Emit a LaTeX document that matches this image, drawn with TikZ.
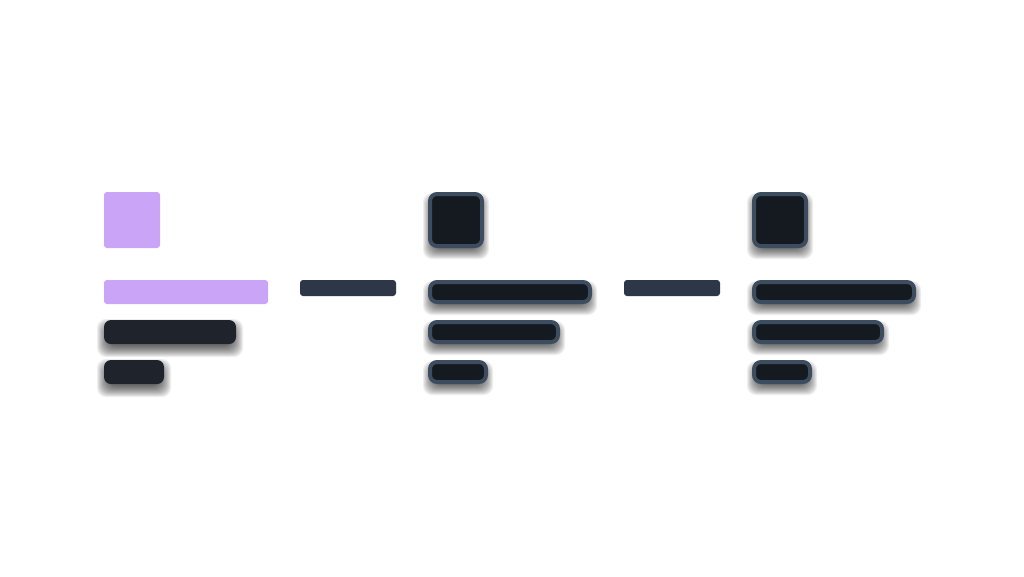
\documentclass[tikz,border=0pt]{standalone}
\pgfdeclarelayer{background}
\pgfsetlayers{background,main}
\definecolor{lilac}{HTML}{C9A4F7}
\definecolor{darkbar}{HTML}{1F242C}
\definecolor{linkbar}{HTML}{2D3748}
\definecolor{edge}{HTML}{3D4D60}
\definecolor{core}{HTML}{151920}
\tikzset{
  base/.style={inner sep=0pt, outer sep=0pt, anchor=north west},
  lilacbox/.style={base, fill=lilac, rounded corners=3pt},
  darkbox/.style={base, fill=darkbar, rounded corners=7pt},
  linkbox/.style={base, fill=linkbar, rounded corners=3pt, minimum width=96pt, minimum height=16pt},
  framebox/.style={base, fill=core, draw=edge, line width=4pt, rounded corners=7pt},
  shadelayer/.style={fill=black, opacity=0.065, rounded corners=9pt},
}
\newcommand\dropshadow[1]{%
  \begin{pgfonlayer}{background}
  \foreach \e in {-4,-3,...,7}{
    \fill[shadelayer] ([xshift={(-1)*\e*1pt}, yshift={(\e-6)*1pt}]#1.north west)
      rectangle ([xshift={\e*1pt}, yshift={(-1)*(\e+6)*1pt}]#1.south east);
  }
  \end{pgfonlayer}}
\begin{document}
\begin{tikzpicture}[x=1pt,y=-1pt]
\useasboundingbox (0,0) rectangle (1024,576);
\begin{pgfonlayer}{background}
\fill[white] (0,0) rectangle (1024,576);
\end{pgfonlayer}
% group 1
\node[lilacbox, minimum width=56pt, minimum height=56pt] (a0) at (104,192) {};
\node[lilacbox, minimum width=164pt, minimum height=24pt] (a1) at (104,280) {};
\node[darkbox, minimum width=132pt, minimum height=24pt] (a2) at (104,320) {};
\node[darkbox, minimum width=60pt, minimum height=24pt] (a3) at (104,360) {};
% link 1
\node[linkbox] (l1) at (300,280) {};
% group 2
\node[framebox, minimum width=52pt, minimum height=52pt] (b0) at (430,194) {};
\node[framebox, minimum width=160pt, minimum height=20pt] (b1) at (430,282) {};
\node[framebox, minimum width=128pt, minimum height=20pt] (b2) at (430,322) {};
\node[framebox, minimum width=56pt, minimum height=20pt] (b3) at (430,362) {};
% link 2
\node[linkbox] (l2) at (624,280) {};
% group 3
\node[framebox, minimum width=52pt, minimum height=52pt] (c0) at (754,194) {};
\node[framebox, minimum width=160pt, minimum height=20pt] (c1) at (754,282) {};
\node[framebox, minimum width=128pt, minimum height=20pt] (c2) at (754,322) {};
\node[framebox, minimum width=56pt, minimum height=20pt] (c3) at (754,362) {};
% shadows
\dropshadow{a2}\dropshadow{a3}
\dropshadow{b0}\dropshadow{b1}\dropshadow{b2}\dropshadow{b3}
\dropshadow{c0}\dropshadow{c1}\dropshadow{c2}\dropshadow{c3}
\end{tikzpicture}
\end{document}
